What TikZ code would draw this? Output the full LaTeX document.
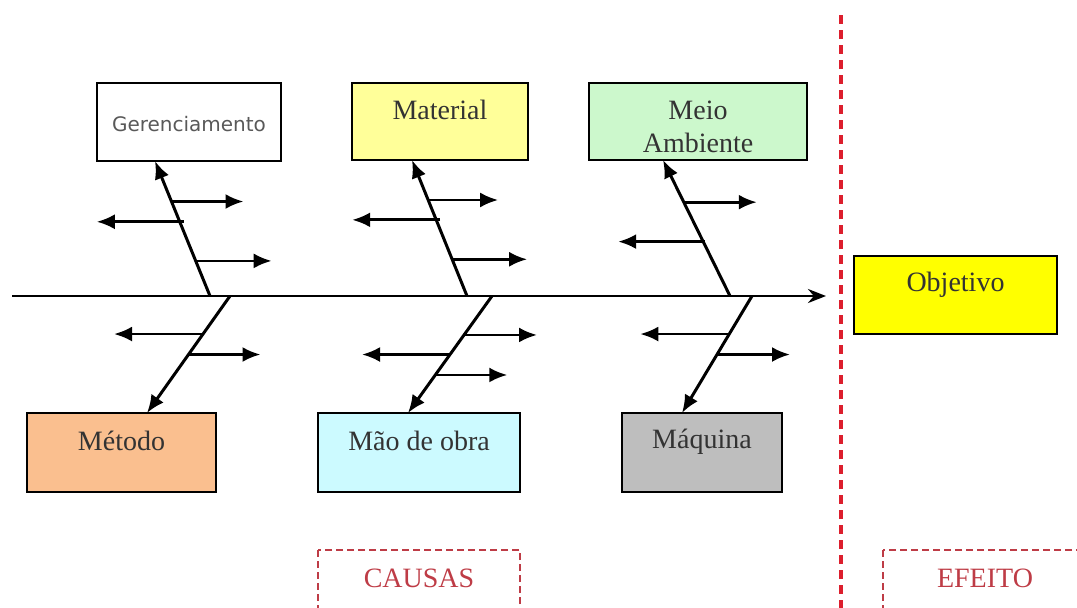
\documentclass[tikz,border=0pt]{standalone}
\usepackage{fontspec}
\setmainfont{Liberation Serif}
\newfontfamily\gersans{DejaVu Sans}
\usetikzlibrary{
  arrows.meta,
  calc
}

\definecolor{matYellow}{RGB}{255,255,153}
\definecolor{meioGreen}{RGB}{204,248,204}
\definecolor{objYellow}{RGB}{255,255,0}
\definecolor{metOrange}{RGB}{250,191,143}
\definecolor{maoCyan}{RGB}{204,250,255}
\definecolor{maqGray}{RGB}{190,190,190}
\definecolor{cutRed}{RGB}{220,30,45}
\definecolor{labRed}{RGB}{190,60,70}

\tikzset{
  cause/.style={draw, line width=1pt, inner sep=0pt, outer sep=0pt},
  bone/.style={->, line width=1.5pt},
  rib/.style={->, line width=1.4pt},
  cut/.style={cutRed, line width=2pt, dash pattern=on 4.5pt off 3pt},
  tag/.style={labRed, line width=1.2pt, dash pattern=on 3.5pt off 2pt},
  txt/.style={font=\fontsize{14}{16.5}\selectfont, text=black!80, align=center}
}

\begin{document}
\begin{tikzpicture}[x=0.5pt, y=-0.5pt, >={Latex[length=9pt,width=7.5pt]}]
  \def\Ys{296};
  \clip (0,0) rectangle (1077,607);

        % boxes of the causes
        \node[cause, minimum width=92pt, minimum height=39pt] (ger) at (189,122) {};
        \node[cause, fill=matYellow, minimum width=88pt, minimum height=38.5pt] (mat) at (440,121.5) {};
        \node[cause, fill=meioGreen, minimum width=109pt, minimum height=38.5pt] (meio) at (698,121.5) {};
        \node[cause, fill=metOrange, minimum width=94.5pt, minimum height=39.5pt] (met) at (121.5,452.5) {};
        \node[cause, fill=maoCyan, minimum width=101pt, minimum height=39.5pt] (mao) at (419,452.5) {};
        \node[cause, fill=maqGray, minimum width=80pt, minimum height=39.5pt] (maq) at (702,452.5) {};
        \node[cause, fill=objYellow, minimum width=101.5pt, minimum height=39pt] (obj) at (955.5,295) {};

        \node[font=\gersans\fontsize{10}{12}\selectfont, text=black!65] (gerT) at (189,124) {Gerenciamento};
        \node[txt] (matT) at (440,110) {Material};
        \node[txt] (meioT) at (698,126.5) {Meio\\Ambiente};
        \node[txt] (metT) at (121.5,441) {Método};
        \node[txt] (maoT) at (419,441) {Mão de obra};
        \node[txt] (maqT) at (702,442) {Máquina};
        \node[txt] (objT) at (955.5,285) {Objetivo};

        % spine
        \coordinate (s0) at (12,\Ys);
        \coordinate (s1) at (826,\Ys);
        \draw[->, line width=1.4pt, >={Stealth[length=9pt,width=7pt]}] (s0) -- (s1);

        % bones
        \coordinate (g0) at (210,\Ys);
        \coordinate (m0) at (467,\Ys);
        \coordinate (a0) at (730,\Ys);
        \coordinate (t0) at (230,\Ys);
        \coordinate (o0) at (492,\Ys);
        \coordinate (q0) at (752,\Ys);
        \coordinate (gtip) at ($(ger.south west)+(58,0)$);
        \coordinate (mtip) at ($(mat.south west)+(60,0)$);
        \coordinate (atip) at ($(meio.south west)+(74,0)$);
        \coordinate (ttip) at ($(met.north west)+(120,0)$);
        \coordinate (otip) at ($(mao.north west)+(90,0)$);
        \coordinate (qtip) at ($(maq.north west)+(60,0)$);

        \draw[bone] (g0) -- (gtip);
        \draw[bone] (m0) -- (mtip);
        \draw[bone] (a0) -- (atip);
        \draw[bone] (t0) -- (ttip);
        \draw[bone] (o0) -- (otip);
        \draw[bone] (q0) -- (qtip);

        \draw[rib] ($(g0)!0.70!(gtip)$) -- ++(72,0);
        \draw[rib] ($(g0)!0.55!(gtip)+(4,0)$) -- ++(-87,0);
        \draw[rib] ($(g0)!0.26!(gtip)$) -- ++(76,0);

        \draw[rib] ($(m0)!0.706!(mtip)$) -- ++(70,0);
        \draw[rib] ($(m0)!0.56!(mtip)+(4,0)$) -- ++(-88,0);
        \draw[rib] ($(m0)!0.27!(mtip)$) -- ++(75,0);

        \draw[rib] ($(a0)!0.69!(atip)$) -- ++(73,0);
        \draw[rib] ($(a0)!0.40!(atip)+(2,0)$) -- ++(-87,0);

        \draw[rib] ($(t0)!0.325!(ttip)$) -- ++(-89,0);
        \draw[rib] ($(t0)!0.50!(ttip)$) -- ++(72,0);

        \draw[rib] ($(o0)!0.333!(otip)$) -- ++(73,0);
        \draw[rib] ($(o0)!0.50!(otip)$) -- ++(-88,0);
        \draw[rib] ($(o0)!0.675!(otip)$) -- ++(72,0);

        \draw[rib] ($(q0)!0.325!(qtip)$) -- ++(-89,0);
        \draw[rib] ($(q0)!0.50!(qtip)$) -- ++(73,0);

        % causes | effect
        \coordinate (c0) at (841,15);
        \coordinate (c1) at (841,620);
        \draw[cut] (c0) -- (c1);

        \draw[tag] (318,550) rectangle (520,630);
        \draw[tag] (883,550) rectangle (1090,630);
        \node[txt, text=labRed] (causas) at (419,578) {CAUSAS};
        \node[txt, text=labRed] (efeito) at (985,578) {EFEITO};

\end{tikzpicture}
\end{document}
